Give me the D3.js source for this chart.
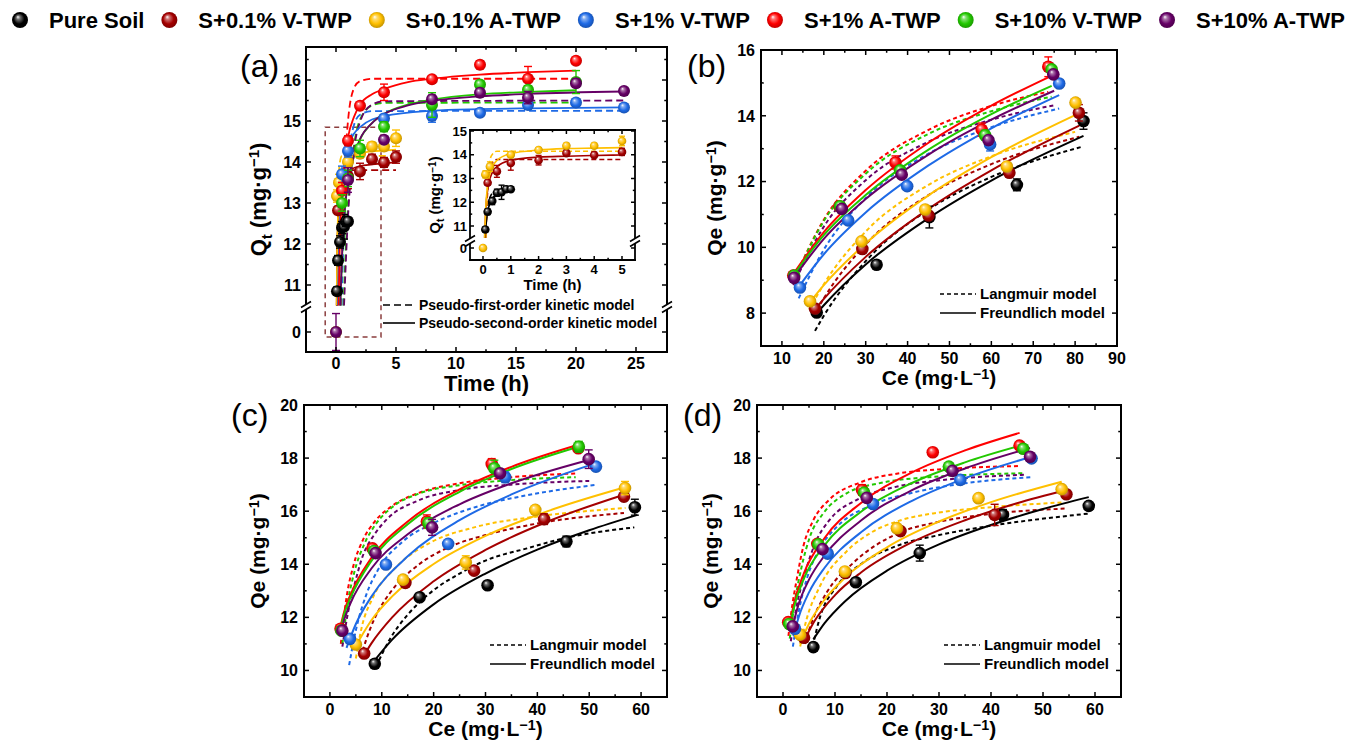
<!DOCTYPE html>
<html>
<head>
<meta charset="utf-8">
<title>Adsorption kinetics and isotherms</title>
<script src="https://cdnjs.cloudflare.com/ajax/libs/d3/7.8.5/d3.min.js"></script>
<style>
body { margin: 0; background: #fff; }
svg { font-family: "Liberation Sans", Arial, sans-serif; font-weight: bold; }
</style>
</head>
<body>
<svg id="chart" width="1353" height="741"></svg>
<script>
// series, in legend order
var names = ["Pure Soil", "S+0.1% V-TWP", "S+0.1% A-TWP", "S+1% V-TWP", "S+1% A-TWP", "S+10% V-TWP", "S+10% A-TWP"];
var colors = ["#000000", "#A50000", "#FFC000", "#1E6AE6", "#FF0000", "#22C800", "#660066"];

// (a) kinetics: [time h, Qt, error]
var kinPoints = [
  [[0.083,10.85,0.1],[0.167,11.6,0.12],[0.333,12.05,0.15],[0.5,12.4,0.15],[0.667,12.42,0.3],[0.833,12.55,0.12],[1,12.55,0.1]],
  [[0.167,12.82,0.1],[0.5,13.3,0.25],[1,13.65,0.3],[2,13.77,0.2],[3,14.07,0.12],[4,13.99,0.12],[5,14.12,0.15]],
  [[0,0,0],[0.083,13.17,0.15],[0.25,13.5,0.2],[1,14.0,0.12],[2,14.2,0.1],[3,14.38,0.1],[4,14.38,0.1],[5,14.58,0.2]],
  [[0.5,13.7,0.2],[1,14.27,0.15],[4,15.06,0.1],[8,15.12,0.15],[12,15.2,0.05],[16,15.39,0.08],[20,15.45,0.06],[24,15.33,0.05]],
  [[0.5,13.3,0.2],[1,14.52,0.12],[2,15.37,0.08],[4,15.7,0.2],[8,16.02,0.05],[12,16.37,0.1],[16,16.03,0.3],[20,16.47,0.05]],
  [[0.5,13.0,0.2],[1,13.6,0.2],[2,14.33,0.2],[4,14.86,0.12],[8,15.39,0.3],[12,15.89,0.06],[16,15.76,0.1],[20,15.95,0.28]],
  [[0,0,0.45],[1,13.56,0.3],[4,14.54,0.08],[8,15.53,0.1],[12,15.69,0.1],[16,15.57,0.15],[20,15.92,0.1],[24,15.73,0.05]]
];
// pseudo-first-order fit (dashed)
var kinPFO = [
  [[0.08,10.5],[0.12,11.3],[0.167,11.8],[0.25,12.2],[0.333,12.38],[0.5,12.48],[1,12.5]],
  [[0.1,10.5],[0.15,12.1],[0.2,13.0],[0.3,13.6],[0.5,13.8],[5,13.8]],
  [[0.1,10.5],[0.15,12.3],[0.2,13.3],[0.3,13.95],[0.5,14.15],[5,14.15]],
  [[0.47,10.5],[0.6,11.9],[0.8,13.2],[1,14.0],[1.5,14.9],[2,15.15],[3,15.24],[24,15.25]],
  [[0.38,10.5],[0.5,12.0],[0.75,14.0],[1,15.0],[1.5,15.8],[2,15.97],[3,16.03],[20,16.03]],
  [[0.63,10.5],[0.8,11.8],[1,12.9],[1.5,14.4],[2,15.03],[3,15.38],[4,15.44],[20,15.45]],
  [[0.67,10.5],[1,12.66],[1.5,14.3],[2,14.98],[3,15.4],[4,15.48],[24,15.5]]
];
// pseudo-second-order fit (solid)
var kinPSO = [
  [[0.07,10.5],[0.1,10.95],[0.167,11.6],[0.25,11.95],[0.333,12.15],[0.5,12.35],[0.667,12.45],[0.833,12.52],[1,12.57]],
  [[0.06,10.5],[0.1,11.72],[0.167,12.5],[0.25,13.0],[0.5,13.49],[1,13.77],[2,13.9],[3,13.94],[4,13.97],[5,13.99]],
  [[0.057,10.5],[0.1,11.8],[0.167,12.7],[0.25,13.21],[0.5,13.76],[1,14.05],[2,14.2],[3,14.26],[4,14.28],[5,14.3]],
  [[0.16,10.5],[0.25,11.9],[0.5,13.4],[1,14.35],[2,14.85],[4,15.12],[8,15.25],[12,15.29],[16,15.31],[24,15.33]],
  [[0.22,10.5],[0.3,11.8],[0.5,13.2],[0.75,14.1],[1,14.6],[1.5,15.1],[2,15.4],[3,15.65],[4,15.78],[6,15.95],[8,16.03],[12,16.13],[16,16.19],[20,16.23]],
  [[0.36,10.5],[0.5,11.6],[0.75,12.9],[1,13.45],[1.5,14.15],[2,14.55],[3,14.95],[4,15.17],[6,15.4],[8,15.52],[12,15.65],[16,15.71],[20,15.75]],
  [[0.35,10.5],[0.5,11.74],[0.75,12.9],[1,13.48],[1.5,14.15],[2,14.56],[3,14.95],[4,15.17],[6,15.38],[8,15.49],[12,15.6],[16,15.66],[24,15.72]]
];

// (b) isotherm: [Ce, Qe, error]
var isoBPoints = [
  [[18.3,8.02,0.1],[32.6,9.47,0.08],[45.2,10.92,0.33],[66.1,11.9,0.18],[82.0,13.84,0.25]],
  [[17.9,8.14,0.1],[29.2,9.95,0.08],[45.0,10.97,0.12],[64.3,12.27,0.1],[80.9,14.09,0.25]],
  [[16.7,8.36,0.05],[29.0,10.18,0.05],[44.2,11.15,0.05],[63.7,12.46,0.05],[80.1,14.4,0.05]],
  [[14.3,8.78,0.05],[25.8,10.82,0.08],[39.9,11.86,0.08],[59.7,13.13,0.2],[76.2,14.98,0.05]],
  [[12.7,9.14,0.08],[23.7,11.25,0.05],[37.1,12.58,0.2],[57.7,13.58,0.2],[73.6,15.49,0.3]],
  [[12.9,9.14,0.1],[23.9,11.25,0.05],[38.2,12.34,0.1],[58.5,13.41,0.15],[74.4,15.41,0.1]],
  [[12.9,9.07,0.05],[24.3,11.17,0.05],[38.6,12.21,0.08],[59.3,13.26,0.1],[74.8,15.26,0.1]]
];
var isoBLangmuir = [
  [[17.9,7.46],[20,7.92],[30,9.58],[45,11.15],[60,12.14],[82,13.07]],
  [[17.5,7.9],[20,8.45],[30,10.09],[45,11.59],[60,12.53],[81,13.36]],
  [[16.5,8.1],[20,8.88],[30,10.48],[45,11.9],[60,12.77],[80,13.51]],
  [[14,8.45],[20,9.93],[30,11.5],[45,12.85],[60,13.65],[76.2,14.22]],
  [[12.5,8.9],[20,10.84],[30,12.33],[45,13.57],[60,14.3],[73.6,14.73]],
  [[12.5,8.9],[20,10.8],[30,12.24],[45,13.45],[60,14.14],[74.4,14.58]],
  [[12.7,8.85],[20,10.63],[30,12.04],[45,13.21],[60,13.88],[75,14.32]]
];
var isoBFreundlich = [
  [[18,7.95],[20,8.24],[30,9.48],[45,10.89],[60,12.03],[82,13.39]],
  [[17.5,8.05],[20,8.43],[30,9.71],[45,11.17],[60,12.34],[81,13.7]],
  [[16.5,8.3],[20,8.85],[30,10.12],[45,11.58],[60,12.74],[80,14.02]],
  [[14,8.8],[20,9.79],[30,11.06],[45,12.49],[60,13.62],[76.2,14.63]],
  [[12.5,9.15],[20,10.46],[30,11.74],[45,13.18],[60,14.31],[73.6,15.17]],
  [[12.5,9.1],[20,10.37],[30,11.59],[45,12.97],[60,14.05],[74.4,14.91]],
  [[12.7,9.05],[20,10.26],[30,11.47],[45,12.82],[60,13.88],[75,14.76]]
];

// (c) isotherm
var isoCPoints = [
  [[8.65,10.25,0.15],[17.3,12.76,0.1],[30.4,13.21,0.08],[45.6,14.86,0.2],[58.8,16.15,0.3]],
  [[6.6,10.64,0.15],[14.55,13.3,0.08],[27.8,13.76,0.08],[41.3,15.7,0.2],[56.7,16.55,0.15]],
  [[5.0,10.98,0.1],[14.1,13.42,0.1],[26.2,14.07,0.25],[39.6,16.05,0.08],[56.9,16.87,0.25]],
  [[3.85,11.19,0.08],[10.8,13.99,0.1],[22.8,14.77,0.08],[33.8,17.28,0.2],[51.3,17.68,0.15]],
  [[2.05,11.57,0.08],[8.2,14.6,0.1],[18.7,15.61,0.25],[31.2,17.78,0.2],[47.9,18.37,0.1]],
  [[2.2,11.5,0.1],[8.5,14.5,0.1],[19.0,15.55,0.2],[31.7,17.62,0.3],[48.0,18.43,0.2]],
  [[2.4,11.5,0.1],[8.8,14.42,0.15],[19.7,15.39,0.3],[32.8,17.43,0.1],[49.9,17.96,0.35]]
];
var isoCLangmuir = [
  [[8.9,10.15],[11.5,11.16],[15,12.1],[19.2,12.9],[25,13.65],[30,14.14],[38,14.6],[45,14.97],[58.7,15.39]],
  [[6.3,10.75],[7.7,11.54],[9.5,12.3],[11.5,12.9],[17.2,14.0],[23,14.65],[30,15.1],[41,15.57],[56.7,15.93]],
  [[5,10.45],[6.1,11.6],[8.3,12.75],[12.8,13.9],[19.2,14.8],[28,15.4],[40,15.8],[57,16.12]],
  [[3.7,10.2],[5.1,11.6],[7,12.85],[9.3,13.8],[14,14.85],[20,15.55],[28,16.15],[38,16.6],[51.3,16.99]],
  [[2.1,11.0],[3.2,12.75],[4.5,13.93],[6.4,14.93],[8.6,15.6],[12,16.2],[17,16.68],[25,17.05],[35,17.28],[47.4,17.42]],
  [[2.4,11.0],[3.4,12.5],[4.7,13.7],[6.6,14.75],[8.8,15.5],[12,16.15],[17,16.65],[25,16.98],[35,17.17],[47.4,17.28]],
  [[2.4,10.9],[3.5,12.2],[4.7,13.2],[6.4,14.35],[8.5,15.1],[11,15.7],[17,16.4],[25,16.8],[35,17.0],[50,17.14]]
];
var isoCFreundlich = [
  [[8.7,10.4],[12,11.16],[20,12.49],[30,13.65],[40,14.55],[50,15.28],[59.3,15.86]],
  [[6.3,10.48],[8,11.02],[12,12.0],[20,13.36],[30,14.54],[42,15.61],[56.7,16.62]],
  [[4.8,10.85],[8,11.89],[12,12.79],[20,14.01],[30,15.07],[42,16.0],[56.9,16.9]],
  [[3.2,10.85],[5,11.75],[8,12.78],[15,14.3],[25,15.66],[35,16.63],[51.3,17.81]],
  [[1.9,11.54],[2.8,12.25],[4,12.87],[8,14.24],[15,15.61],[25,16.82],[35,17.67],[47.9,18.5]],
  [[2,11.5],[2.8,12.15],[4,12.75],[8,14.13],[15,15.51],[25,16.73],[35,17.59],[47.9,18.43]],
  [[2.05,11.42],[2.8,11.95],[4,12.55],[8,13.84],[15,15.13],[25,16.26],[35,17.05],[49.9,17.93]]
];

// (d) isotherm
var isoDPoints = [
  [[5.84,10.88,0.15],[14.0,13.32,0.1],[26.3,14.42,0.3],[42.3,15.86,0.2],[58.8,16.2,0.08]],
  [[4.04,11.23,0.1],[12.0,13.67,0.1],[22.6,15.25,0.1],[40.7,15.86,0.4],[54.5,16.64,0.1]],
  [[3.27,11.35,0.1],[11.9,13.73,0.08],[21.9,15.36,0.1],[37.6,16.49,0.08],[53.6,16.83,0.1]],
  [[2.3,11.57,0.1],[8.6,14.4,0.1],[17.3,16.27,0.1],[34.1,17.18,0.1],[47.8,17.99,0.1]],
  [[1.0,11.82,0.08],[6.6,14.77,0.1],[15.2,16.8,0.2],[28.8,18.22,0.08],[45.5,18.47,0.1]],
  [[1.2,11.75,0.1],[6.8,14.75,0.1],[15.6,16.7,0.15],[31.9,17.68,0.15],[46.2,18.35,0.1]],
  [[1.87,11.66,0.1],[7.6,14.57,0.1],[16.1,16.5,0.1],[32.6,17.52,0.1],[47.5,18.05,0.1]]
];
var isoDLangmuir = [
  [[5.7,10.9],[7.1,12.0],[10.3,13.16],[15.3,14.05],[22,14.7],[30,15.1],[40,15.45],[58.8,15.91]],
  [[4.2,11.0],[5.5,11.8],[8.35,12.92],[13.5,14.05],[22.5,15.2],[30,15.6],[40,15.9],[54.5,16.1]],
  [[3.3,10.9],[4.5,11.9],[7.1,13.17],[12.3,14.5],[17,15.2],[22.5,15.65],[30,15.95],[40,16.15],[53.6,16.33]],
  [[1.9,10.9],[3,12.2],[4.5,13.4],[7.1,14.6],[10.3,15.4],[17.3,16.25],[25,16.7],[35,17.05],[47.8,17.28]],
  [[1.05,11.3],[1.6,12.2],[2.63,13.42],[3.92,14.68],[5.84,15.66],[9,16.45],[14.8,17.08],[22.5,17.43],[32,17.6],[45.5,17.7]],
  [[1.3,11.2],[2.2,12.5],[3.6,13.92],[5.2,15.05],[7.8,15.93],[12.3,16.68],[18.7,17.06],[28,17.28],[46.6,17.43]],
  [[1.5,11.1],[2.5,12.3],[4.24,13.67],[6.2,14.8],[9,15.68],[14.2,16.43],[22,16.93],[32,17.2],[46.6,17.37]]
];
var isoDFreundlich = [
  [[5.84,11.17],[8,11.78],[12,12.62],[20,13.76],[30,14.75],[40,15.48],[50,16.08],[58.8,16.53]],
  [[4,11.1],[6,11.84],[10,12.84],[15,13.69],[25,14.85],[35,15.66],[45,16.3],[54.5,16.8]],
  [[3.27,11.0],[5,11.76],[8,12.67],[12,13.51],[20,14.64],[30,15.61],[40,16.34],[53.6,17.11]],
  [[2,11.3],[3,12.0],[5,12.94],[8,13.87],[15,15.21],[25,16.41],[35,17.24],[47.8,18.05]],
  [[1.2,11.6],[2,12.43],[4,13.65],[8,14.99],[15,16.31],[25,17.48],[35,18.29],[45.5,18.95]],
  [[1.2,11.5],[2,12.29],[4,13.45],[8,14.72],[15,15.98],[25,17.08],[35,17.84],[46.2,18.5]],
  [[1.6,11.45],[3,12.5],[5,13.42],[8,14.33],[15,15.65],[25,16.81],[35,17.61],[47.5,18.38]]
];

var svg = d3.select('#chart');
var defs = svg.append('defs');

// shaded ball for each series
colors.forEach(function(c, i) {
  var gr = defs.append('radialGradient').attr('id', 'ball' + i)
    .attr('cx', '50%').attr('cy', '50%').attr('r', '55%').attr('fx', '36%').attr('fy', '30%');
  gr.append('stop').attr('offset', '0%').attr('stop-color', '#fff');
  gr.append('stop').attr('offset', '22%').attr('stop-color', d3.interpolateRgb(c, '#fff')(0.45));
  gr.append('stop').attr('offset', '60%').attr('stop-color', c);
  gr.append('stop').attr('offset', '100%').attr('stop-color', d3.color(c).darker(0.9));
});

function rich(sel, parts, fs) {
  var shift = 0;
  parts.forEach(function(p) {
    var target = p[1] === 'sup' ? -fs * 0.3 : (p[1] === 'sub' ? fs * 0.25 : 0);
    sel.append('tspan').attr('dy', target - shift)
      .attr('font-size', p[1] === 'n' ? fs : fs * 0.68).text(p[0]);
    shift = target;
  });
}

function drawCurves(g, x, y, curves, dash, width) {
  var line = d3.line().x(function(d) { return x(d[0]); }).y(function(d) { return y(d[1]); })
    .curve(d3.curveMonotoneX);
  curves.forEach(function(c, i) {
    if (!c) return;
    g.append('path').attr('d', line(c)).attr('fill', 'none')
      .attr('stroke', colors[i]).attr('stroke-width', width)
      .attr('stroke-dasharray', dash);
  });
}

function drawPoints(g, x, y, pts, i, r, cap) {
  pts.forEach(function(d) {
    var X = x(d[0]);
    if (d[2] > 0) {
      var y1 = y(d[1] - d[2]), y2 = y(d[1] + d[2]);
      g.append('line').attr('x1', X).attr('x2', X).attr('y1', y1).attr('y2', y2)
        .attr('stroke', colors[i]).attr('stroke-width', 1.4);
      [y1, y2].forEach(function(yy) {
        g.append('line').attr('x1', X - cap).attr('x2', X + cap).attr('y1', yy).attr('y2', yy)
          .attr('stroke', colors[i]).attr('stroke-width', 1.4);
      });
    }
    g.append('circle').attr('cx', X).attr('cy', y(d[1])).attr('r', r)
      .attr('fill', 'url(#ball' + i + ')');
  });
}

function drawFrame(g, p) {
  var l = p.box[0], r = p.box[1], t = p.box[2], b = p.box[3];
  var fr = g.append('g').attr('stroke', '#000').attr('fill', 'none');
  function ln(x1, y1, x2, y2, w) {
    fr.append('line').attr('x1', x1).attr('y1', y1).attr('x2', x2).attr('y2', y2)
      .attr('stroke-width', w || 1.5);
  }
  p.xMajor.forEach(function(v) { var X = p.x(v); ln(X, b, X, b - p.tick); ln(X, t, X, t + p.tick); });
  p.xMinor.forEach(function(v) { var X = p.x(v); ln(X, b, X, b - p.tick * 0.55); ln(X, t, X, t + p.tick * 0.55); });
  p.yMajor.forEach(function(v) { var Y = p.y(v); ln(l, Y, l + p.tick, Y); ln(r, Y, r - p.tick, Y); });
  p.yMinor.forEach(function(v) { var Y = p.y(v); ln(l, Y, l + p.tick * 0.55, Y); ln(r, Y, r - p.tick * 0.55, Y); });

  var box = fr.append('g').attr('stroke-width', p.frameW).attr('stroke-linecap', 'square');
  box.append('line').attr('x1', l).attr('x2', r).attr('y1', t).attr('y2', t);
  box.append('line').attr('x1', l).attr('x2', r).attr('y1', b).attr('y2', b);
  [l, r].forEach(function(xx) {
    if (p.breakY) {
      box.append('line').attr('x1', xx).attr('x2', xx).attr('y1', t).attr('y2', p.breakY - 4);
      box.append('line').attr('x1', xx).attr('x2', xx).attr('y1', p.breakY + 4).attr('y2', b);
      [-2.5, 2.5].forEach(function(o) {
        fr.append('line').attr('x1', xx - 5).attr('y1', p.breakY + o + 3)
          .attr('x2', xx + 5).attr('y2', p.breakY + o - 3).attr('stroke-width', 1.6);
      });
    } else {
      box.append('line').attr('x1', xx).attr('x2', xx).attr('y1', t).attr('y2', b);
    }
  });

  g.append('g').selectAll('text').data(p.xMajor).join('text')
    .attr('x', function(v) { return p.x(v); }).attr('y', b + p.xLabOff)
    .attr('text-anchor', 'middle').attr('font-size', p.fs).text(function(v) { return v; });
  g.append('g').selectAll('text').data(p.yMajor).join('text')
    .attr('x', l - p.yLabOff).attr('y', function(v) { return p.y(v); }).attr('dy', '0.36em')
    .attr('text-anchor', 'end').attr('font-size', p.fs).text(function(v) { return v; });
}

function axisTitles(g, p, xParts, yParts, fs) {
  var l = p.box[0], r = p.box[1], t = p.box[2], b = p.box[3];
  rich(g.append('text').attr('x', (l + r) / 2).attr('y', b + p.titleOff)
    .attr('text-anchor', 'middle'), xParts, fs);
  rich(g.append('text').attr('text-anchor', 'middle')
    .attr('transform', 'translate(' + (l - p.yTitleOff) + ',' + ((t + b) / 2) + ') rotate(-90)')
    .attr('dy', '0.36em'), yParts, fs);
}

function clipFor(id, box) {
  defs.append('clipPath').attr('id', id).append('rect')
    .attr('x', box[0]).attr('y', box[2]).attr('width', box[1] - box[0]).attr('height', box[3] - box[2]);
  return 'url(#' + id + ')';
}

function panelLabel(txt, x, y) {
  svg.append('text').attr('x', x).attr('y', y).attr('font-size', 32).attr('font-weight', 'normal').text(txt);
}

function modelLegend(g, x, y1, y2, dash, label1, label2, fs, len) {
  g.append('line').attr('x1', x).attr('x2', x + len).attr('y1', y1).attr('y2', y1)
    .attr('stroke', '#000').attr('stroke-width', 1.6).attr('stroke-dasharray', dash);
  g.append('line').attr('x1', x).attr('x2', x + len).attr('y1', y2).attr('y2', y2)
    .attr('stroke', '#000').attr('stroke-width', 1.6);
  g.append('text').attr('x', x + len + 4).attr('y', y1).attr('dy', '0.36em').attr('font-size', fs).text(label1);
  g.append('text').attr('x', x + len + 4).attr('y', y2).attr('dy', '0.36em').attr('font-size', fs).text(label2);
}

// ---------- top legend ----------
var leg = svg.append('g');
var lx = 20;
names.forEach(function(n, i) {
  leg.append('circle').attr('cx', lx).attr('cy', 20).attr('r', 8).attr('fill', 'url(#ball' + i + ')');
  var tx = leg.append('text').attr('x', lx + 29).attr('y', 28).attr('font-size', 22).text(n);
  lx = lx + 29 + tx.node().getComputedTextLength() + 25;
});

// ---------- (a) kinetics ----------
(function() {
  var box = [306, 667, 47, 352];
  var x = d3.scaleLinear([-2.5, 27.5], [306, 666]);
  var yU = d3.scaleLinear([11, 16], [285, 80]);
  var yL = d3.scaleLinear([0, 0.5], [332, 311.5]);
  var y = function(v) { return v >= 5 ? yU(v) : yL(v); };
  var p = { box: box, x: x, y: y, breakY: 307, tick: 5, frameW: 2, fs: 16, xLabOff: 17, yLabOff: 5,
    titleOff: 39, yTitleOff: 40,
    xMajor: [0, 5, 10, 15, 20, 25], xMinor: [2.5, 7.5, 12.5, 17.5, 22.5],
    yMajor: [0, 11, 12, 13, 14, 15, 16], yMinor: [11.5, 12.5, 13.5, 14.5, 15.5, 16.5] };
  var g = svg.append('g');
  var inner = g.append('g').attr('clip-path', clipFor('clipA', box));

  // zoom box around the first five hours
  var zb = { t0: -0.9, t1: 3.75, vTop: 14.85, vBottom: -0.12 };
  inner.append('rect').attr('x', x(zb.t0)).attr('y', y(zb.vTop))
    .attr('width', x(zb.t1) - x(zb.t0)).attr('height', y(zb.vBottom) - y(zb.vTop))
    .attr('fill', 'none').attr('stroke', '#8B3E3E').attr('stroke-width', 1.5).attr('stroke-dasharray', '5,4');

  drawCurves(inner, x, y, kinPFO, '7,4', 1.8);
  drawCurves(inner, x, y, kinPSO, null, 1.8);
  kinPoints.forEach(function(pts, i) { drawPoints(inner, x, y, pts, i, 6, 4); });

  modelLegend(g, 383, 305, 323, '7,4', 'Pseudo-first-order kinetic model', 'Pseudo-second-order kinetic model', 14, 32);
  drawFrame(g, p);
  axisTitles(g, p, [['Time (h)', 'n']], [['Q', 'n'], ['t', 'sub'], [' (mg·g', 'n'], ['−1', 'sup'], [')', 'n']], 22);
  panelLabel('(a)', 240, 77);

  // inset: first five hours
  var ibox = [470, 635, 130, 260];
  var xi = d3.scaleLinear([0, 5], [483, 622]);
  var yiU = d3.scaleLinear([11, 15], [226, 131]);
  var yiL = d3.scaleLinear([0, 0.5], [248, 236]);
  var yi = function(v) { return v >= 5 ? yiU(v) : yiL(v); };
  var ip = { box: ibox, x: xi, y: yi, breakY: 241, tick: 4, frameW: 1.8, fs: 13, xLabOff: 14, yLabOff: 3,
    titleOff: 30, yTitleOff: 30,
    xMajor: [0, 1, 2, 3, 4, 5], xMinor: [0.5, 1.5, 2.5, 3.5, 4.5],
    yMajor: [0, 11, 12, 13, 14, 15], yMinor: [11.5, 12.5, 13.5, 14.5] };
  var ig = g.append('g');
  ig.append('rect').attr('x', ibox[0]).attr('y', ibox[2]).attr('width', ibox[1] - ibox[0])
    .attr('height', ibox[3] - ibox[2]).attr('fill', '#fff');
  var iinner = ig.append('g').attr('clip-path', clipFor('clipI', ibox));
  drawCurves(iinner, xi, yi, kinPFO.slice(0, 3), '5,3', 1.6);
  drawCurves(iinner, xi, yi, kinPSO.slice(0, 3), null, 1.6);
  kinPoints.slice(0, 3).forEach(function(pts, i) {
    drawPoints(iinner, xi, yi, pts.filter(function(d) { return d[0] <= 5; }), i, 4.3, 3);
  });
  drawFrame(ig, ip);
  axisTitles(ig, ip, [['Time (h)', 'n']], [['Q', 'n'], ['t', 'sub'], [' (mg·g', 'n'], ['−1', 'sup'], [')', 'n']], 15);
})();

// ---------- isotherm panels ----------
function isoPanel(id, box, xDom, yDom, xMajor, xMinor, yMajor, yMinor, pts, lang, freu, label, lpos) {
  var x = d3.scaleLinear(xDom, [box[0], box[1]]);
  var y = d3.scaleLinear(yDom, [box[3], box[2]]);
  var p = { box: box, x: x, y: y, tick: 5, frameW: 2, fs: 16, xLabOff: 18, yLabOff: 6,
    titleOff: 39, yTitleOff: 39, xMajor: xMajor, xMinor: xMinor, yMajor: yMajor, yMinor: yMinor };
  var g = svg.append('g');
  var inner = g.append('g').attr('clip-path', clipFor('clip' + id, box));
  drawCurves(inner, x, y, lang, '4,3', 2);
  drawCurves(inner, x, y, freu, null, 2);
  pts.forEach(function(d, i) { drawPoints(inner, x, y, d, i, 6.3, 4); });
  modelLegend(g, box[1] - 177, box[3] - 52, box[3] - 33, '4,3', 'Langmuir model', 'Freundlich model', 15, 36);
  drawFrame(g, p);
  axisTitles(g, p, [['Ce (mg·L', 'n'], ['−1', 'sup'], [')', 'n']],
    [['Qe (mg·g', 'n'], ['−1', 'sup'], [')', 'n']], 21);
  panelLabel(label, lpos[0], lpos[1]);
}

isoPanel('B', [761, 1117, 50, 346], [5, 90], [7, 16],
  [10, 20, 30, 40, 50, 60, 70, 80, 90], [15, 25, 35, 45, 55, 65, 75, 85],
  [8, 10, 12, 14, 16], [9, 11, 13, 15],
  isoBPoints, isoBLangmuir, isoBFreundlich, '(b)', [687, 77]);

isoPanel('C', [304, 667, 405, 697], [-5, 65], [9, 20],
  [0, 10, 20, 30, 40, 50, 60], [5, 15, 25, 35, 45, 55],
  [10, 12, 14, 16, 18, 20], [11, 13, 15, 17, 19],
  isoCPoints, isoCLangmuir, isoCFreundlich, '(c)', [231, 426]);

isoPanel('D', [757, 1121, 405, 697], [-5, 65], [9, 20],
  [0, 10, 20, 30, 40, 50, 60], [5, 15, 25, 35, 45, 55],
  [10, 12, 14, 16, 18, 20], [11, 13, 15, 17, 19],
  isoDPoints, isoDLangmuir, isoDFreundlich, '(d)', [683, 426]);
</script>
</body>
</html>
